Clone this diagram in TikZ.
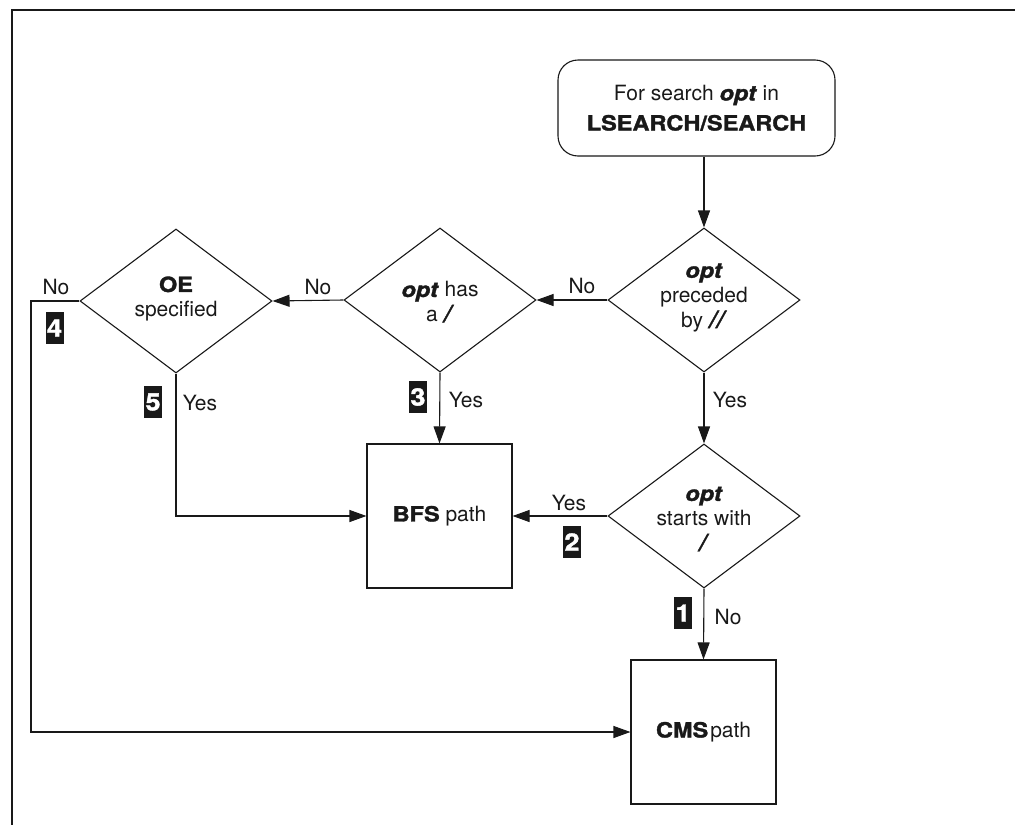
\documentclass[tikz,border=0pt]{standalone}
\usepackage{fontspec}
\setmainfont{TeX Gyre Heros}[BoldFeatures={FakeBold=1.6,FakeStretch=1.12},BoldItalicFeatures={FakeBold=1.6,FakeStretch=1.12}]
\usetikzlibrary{shapes.geometric,arrows.meta}
\newcommand\optb{\textbf{\textit{opt}}}
\newcommand\slashb[1]{{\fontsize{24}{25}\selectfont\textbf{\textit{#1}}}}
\begin{document}
\begin{tikzpicture}[x=1pt,y=-1pt,
  every node/.style={font=\fontsize{21}{25}\selectfont, text=black!90},
  ln/.style={line width=1.1pt, draw=black!90},
  arr/.style={ln, -{Triangle[length=17pt,width=12pt]}},
  dia/.style={diamond, draw=black!90, line width=1.1pt, minimum width=192pt, minimum height=144pt, inner sep=0pt},
  box/.style={rectangle, draw=black!90, line width=1.1pt, minimum width=145pt, minimum height=144pt, inner sep=0pt},
  badge/.style={fill=black!90, text=white, font=\fontsize{24}{24}\selectfont\bfseries, minimum width=18pt, minimum height=32pt, inner sep=0pt},
  dtext/.style={align=center, inner sep=0pt}
]
\useasboundingbox (0,0) rectangle (1015,825);
\draw[line width=1.5pt, draw=black!90] (1015,10) -- (12,10) -- (12,825);

% nodes
\node[draw=black!90, rounded corners=20pt, line width=1.1pt, minimum width=277pt, minimum height=96pt, align=center, font=\fontsize{21}{30}\selectfont] (start) at (696.5,108) {For search \optb{} in\\ \textbf{LSEARCH/SEARCH}};

\node[dia] (d1) at (704,300) {};
\node[dtext] (t1) at (704,298) {\optb\\preceded\\by \slashb{//}};

\node[dia] (d2) at (440,300) {};
\node[dtext] (t2) at (440,302) {\optb{} has\\a \slashb{/}};

\node[dia] (d3) at (176,301) {};
\node[dtext] (t3) at (176,299) {\textbf{OE}\\specified};

\node[dia] (d4) at (704,516) {};
\node[dtext] (t4) at (704,519) {\optb\\starts with\\\slashb{/}};

\node[box] (bfs) at (439.5,516) {\textbf{BFS} path};
\node[box] (cms) at (703.5,732) {\textbf{CMS}\hspace{2pt}path};

\coordinate (lft) at (31,301);

% connectors
\draw[arr] (d1.north |- start.south) -- (d1.north);
\draw[arr] (d1.west) -- (d2.east);
\draw[arr] (d2.west) -- (d3.east);
\draw[arr] (d3.west) -- (lft) |- (cms.west);
\draw[arr] (d3.south) |- (bfs.west);
\draw[arr] (d2.south) -- (bfs.north);
\draw[arr] (d1.south) -- (d4.north);
\draw[arr] (d4.west) -- (bfs.east);
\draw[arr] (d4.south) -- (cms.north);

% labels
\node (l1) at (582,286) {No};
\node (l2) at (318,287) {No};
\node (l3) at (56,287) {No};
\node (l4) at (200,403) {Yes};
\node (l5) at (466,400) {Yes};
\node (l6) at (730,400) {Yes};
\node (l7) at (569,503) {Yes};
\node (l8) at (728,617) {No};

% badges
\node[badge] (b4) at (54.5,328) {4};
\node[badge] (b5) at (153,402) {5};
\node[badge] (b3) at (418,397) {3};
\node[badge] (b2) at (572,542) {2};
\node[badge] (b1) at (683,613) {1};
\end{tikzpicture}
\end{document}
